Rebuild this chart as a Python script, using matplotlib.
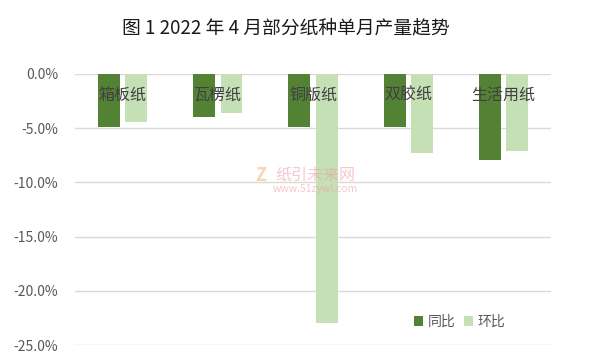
import matplotlib
matplotlib.use('Agg')
import numpy as np
import matplotlib.pyplot as plt
from matplotlib.ticker import FuncFormatter

plt.rcParams['font.family'] = ['Noto Sans CJK SC', 'DejaVu Sans']

categories = ['箱板纸', '瓦楞纸', '铜版纸', '双胶纸', '生活用纸']
yoy = [-4.9, -4.0, -4.85, -4.9, -7.95]   # 同比
mom = [-4.4, -3.6, -23.0, -7.25, -7.1]  # 环比
title = '图 1 2022 年 4 月部分纸种单月产量趋势'

dark = '#548235'
light = '#C5E0B4'
grey = '#595959'

fig = plt.figure(figsize=(6.09, 3.64), dpi=100)
ax = fig.add_axes([0.123, 0.052, 0.782, 0.745])

x = np.arange(len(categories))
width = 0.23
ax.bar(x - 0.144, yoy, width, color=dark, label='同比', zorder=2)
ax.bar(x + 0.144, mom, width, color=light, label='环比', zorder=2)

ax.set_xlim(-0.5, len(categories) - 0.5)
ax.set_ylim(-25, 0)
ax.set_yticks([0, -5, -10, -15, -20, -25])
ax.yaxis.set_major_formatter(FuncFormatter(lambda v, p: '%.1f%%' % v))
ax.grid(axis='y', color='#D9D9D9', linewidth=1, zorder=0)
ax.set_axisbelow(True)

ax.set_xticks([])
ax.tick_params(axis='y', length=0, pad=12, labelsize=10, labelcolor=grey)
for s in ax.spines.values():
    s.set_visible(False)

# category labels sit on top of the bars, just under the zero line
for i, name in enumerate(categories):
    ax.text(i, -1.95, name, fontsize=11.5, color='#404040', ha='center', va='center', zorder=5)

# faint watermark
fig.text(0.428, 0.517, 'Z', color='#f5c59a', fontsize=13, fontweight='bold', ha='center', va='center', alpha=0.7)
fig.text(0.518, 0.519, '纸引未来网', color='#f09aa6', fontsize=11.5, ha='center', va='center', alpha=0.55)
fig.text(0.518, 0.481, 'www.51zywl.com', color='#f09aa6', fontsize=7.5, ha='center', va='center', alpha=0.55)

fig.text(0.47, 0.923, title, fontsize=13.5, ha='center', va='center', color='#1a1a1a')

ax.legend(loc='lower right', bbox_to_anchor=(0.93, 0.015), ncol=2, frameon=False,
          fontsize=10, handlelength=0.7, handleheight=0.7, handletextpad=0.3,
          columnspacing=0.6, labelcolor=grey)

fig.savefig('out.png', dpi=100, facecolor='white')
